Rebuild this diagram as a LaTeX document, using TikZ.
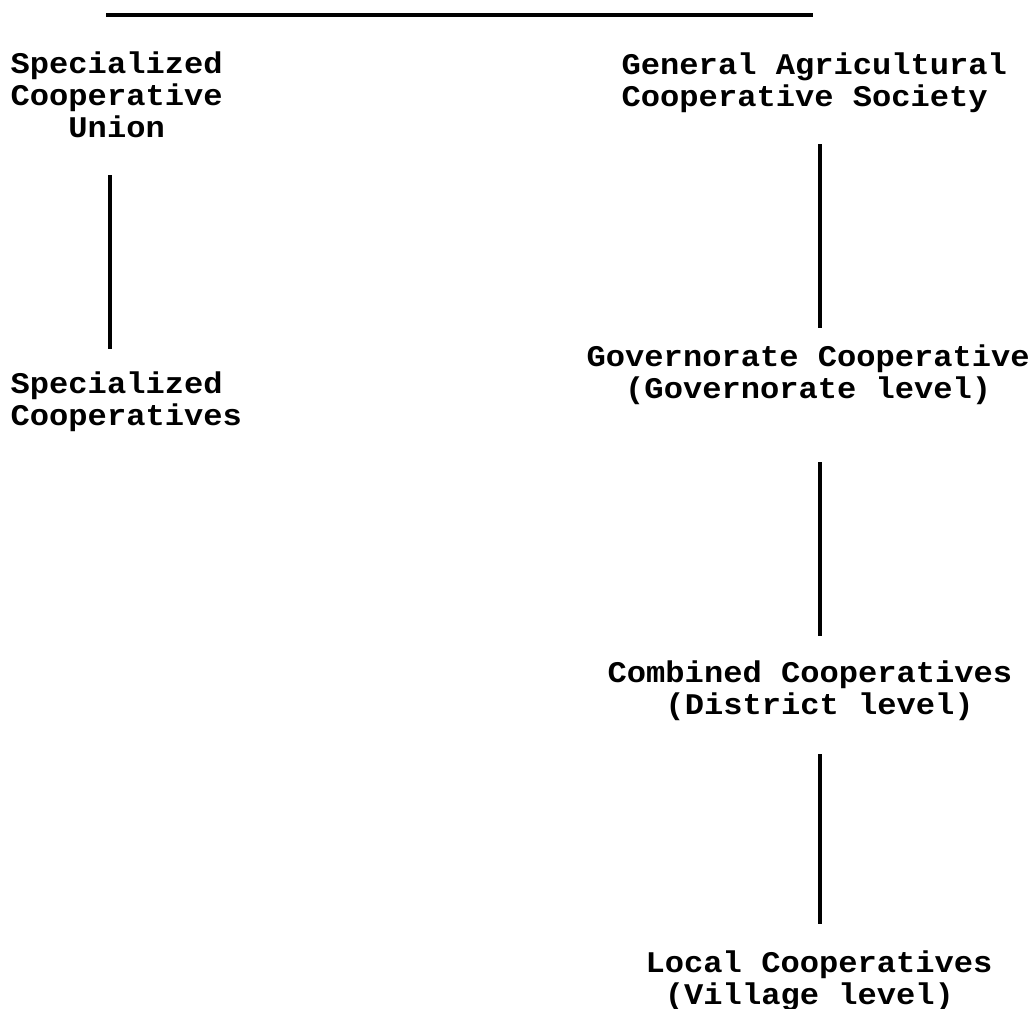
\documentclass[tikz,border=0pt]{standalone}
\usepackage{fontspec}
\newfontfamily\tw[FakeStretch=1.07, UprightFont={* Bold}]{Liberation Mono}
\begin{document}
\begin{tikzpicture}[x=1pt, y=-1pt,
  label/.style={anchor=base west, inner sep=0pt, align=left,
    font=\tw\fontsize{30}{32}\selectfont},
  rule/.style={line width=3.5pt}]
\useasboundingbox (0,0) rectangle (1029,1009);
% columns of the vertical links
\coordinate (lx) at (110,0);
\coordinate (rx) at (820,0);

% headline rule
\coordinate (t0) at (106,15);
\coordinate (t1) at (813,15);
\draw[rule] (t0) -- (t1);

% left branch (anchors sit on the last line's baseline)
\node[label] (su) at (10.5,137) {Specialized\\Cooperative\\\phantom{xxx}Union};
\node[label] (sc) at (10.5,425) {Specialized\\Cooperatives};

% right branch
\node[label] (ga) at (621.5,106) {General Agricultural\\Cooperative Society};
\node[label] (gc) at (586.5,398) {Governorate Cooperative\\\phantom{xx}(Governorate level)};
\node[label] (cc) at (607.5,714) {Combined Cooperatives\\\phantom{xxx}(District level)};
\node[label] (lc) at (645.5,1004) {Local Cooperatives\\\phantom{x}(Village level)};

% vertical links
\draw[rule] ([yshift=-38pt]su.base -| lx) -- ([yshift=76pt]sc.base -| lx);
\draw[rule] ([yshift=-38pt]ga.base -| rx) -- ([yshift=70pt]gc.base -| rx);
\draw[rule] ([yshift=-64pt]gc.base -| rx) -- ([yshift=78pt]cc.base -| rx);
\draw[rule] ([yshift=-40pt]cc.base -| rx) -- ([yshift=80pt]lc.base -| rx);
\end{tikzpicture}
\end{document}
